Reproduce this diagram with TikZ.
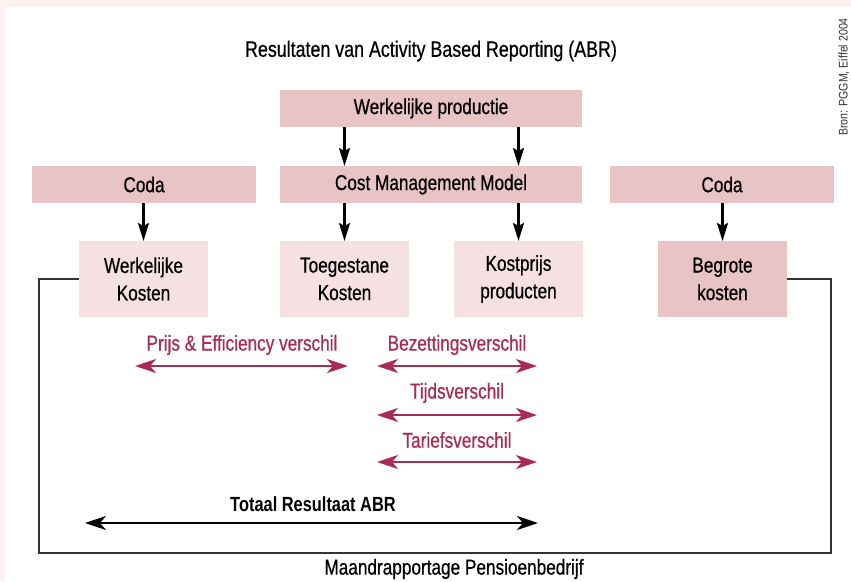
\documentclass[tikz,border=0pt]{standalone}
\usepackage{fontspec}
\setmainfont{Liberation Sans}[FakeStretch=0.8, FakeBold=0.6]
\newfontfamily\boldcond{Liberation Sans Bold}[FakeStretch=0.8]
\newfontfamily\bronfont{Liberation Sans}[FakeStretch=0.85]
\usetikzlibrary{arrows.meta}
\definecolor{boxdark}{RGB}{232,196,196}
\definecolor{boxlight}{RGB}{245,225,225}
\definecolor{bgpink}{RGB}{252,240,240}
\definecolor{magline}{RGB}{168,45,80}
\definecolor{frameline}{RGB}{51,51,51}
\begin{document}
\begin{tikzpicture}[x=1pt,y=-1pt,
  every node/.style={inner sep=0pt, outer sep=0pt},
  txt/.style={font=\fontsize{21.5}{27.5}\selectfont},
  widebox/.style={txt, fill=boxdark, minimum height=37pt},
  smallbox/.style={txt, fill=boxlight, minimum width=129pt, minimum height=76pt, align=center},
  downarrow/.style={line width=2.3pt, -{Stealth[length=18pt,width=11pt,inset=3pt]}},
  varrow/.style={magline, line width=2.8pt, {Stealth[length=21pt,width=14pt,inset=6pt]}-{Stealth[length=21pt,width=14pt,inset=6pt]}},
  totarrow/.style={black, line width=2.6pt, {Stealth[length=21pt,width=14pt,inset=6pt]}-{Stealth[length=21pt,width=14pt,inset=6pt]}},
  varlabel/.style={txt, text=magline},
  feedback/.style={draw=frameline, line width=1.4pt},
]
\fill[bgpink] (0,0) rectangle (851,581);
\fill[white] (5,7) rectangle (851,581);
\useasboundingbox (0,0) rectangle (851,581);

\node[font=\fontsize{22.3}{26}\selectfont] (title) at (431,51) {Resultaten van Activity Based Reporting (ABR)};
\node[rotate=90, font=\bronfont\fontsize{12.5}{14}\selectfont, text=black!80] (bron) at (844,77) {Bron: PGGM, Eiffel 2004};

\node[widebox, minimum width=302pt] (wp) at (431,108.5) {Werkelijke productie};
\node[widebox, minimum width=224pt] (codaL) at (144,184.5) {Coda};
\node[widebox, minimum width=302pt] (cmm) at (431,184.5) {Cost Management Model};
\node[widebox, minimum width=224pt] (codaR) at (722,184.5) {Coda};

\node[smallbox] (wk) at (143.5,279) {Werkelijke\\Kosten};
\node[smallbox] (tk) at (344.5,279) {Toegestane\\Kosten};
\node[smallbox] (kp) at (518.5,279) {Kostprijs\\producten};
\node[smallbox, fill=boxdark] (bk) at (722.5,279) {Begrote\\kosten};

\draw[downarrow] (wp.south -| tk.center) -- (cmm.north -| tk.center);
\draw[downarrow] (wp.south -| kp.center) -- (cmm.north -| kp.center);
\draw[downarrow] (codaL.south -| wk.center) -- (wk.north);
\draw[downarrow] (cmm.south -| tk.center) -- (tk.north);
\draw[downarrow] (cmm.south -| kp.center) -- (kp.north);
\draw[downarrow] (codaR.south -| bk.center) -- (bk.north);

\coordinate (bl) at (39,553);
\coordinate (br) at (831,553);
\draw[feedback] (wk.west) -| (bl) -- (br) |- (bk.east);
\node[txt] (maand) at (454,569) {Maandrapportage Pensioenbedrijf};

\node[varlabel] (pelab) at (242,345) {Prijs \& Efficiency verschil};
\coordinate (pe1) at (135,366);
\coordinate (pe2) at (348,366);
\draw[varrow] (pe1) -- (pe2);

\node[varlabel] (bzlab) at (457,345) {Bezettingsverschil};
\coordinate (bz1) at (377,366);
\coordinate (bz2) at (537,366);
\draw[varrow] (bz1) -- (bz2);

\node[varlabel] (tdlab) at (457,393) {Tijdsverschil};
\coordinate (td1) at (377,415);
\coordinate (td2) at (537,415);
\draw[varrow] (td1) -- (td2);

\node[varlabel] (trlab) at (457,440) {Tariefsverschil};
\coordinate (tr1) at (377,462);
\coordinate (tr2) at (537,462);
\draw[varrow] (tr1) -- (tr2);

\node[font=\boldcond\fontsize{20.5}{24}\selectfont] (totlab) at (313,504) {Totaal Resultaat ABR};
\coordinate (to1) at (85,523);
\coordinate (to2) at (538,523);
\draw[totarrow] (to1) -- (to2);
\end{tikzpicture}
\end{document}
